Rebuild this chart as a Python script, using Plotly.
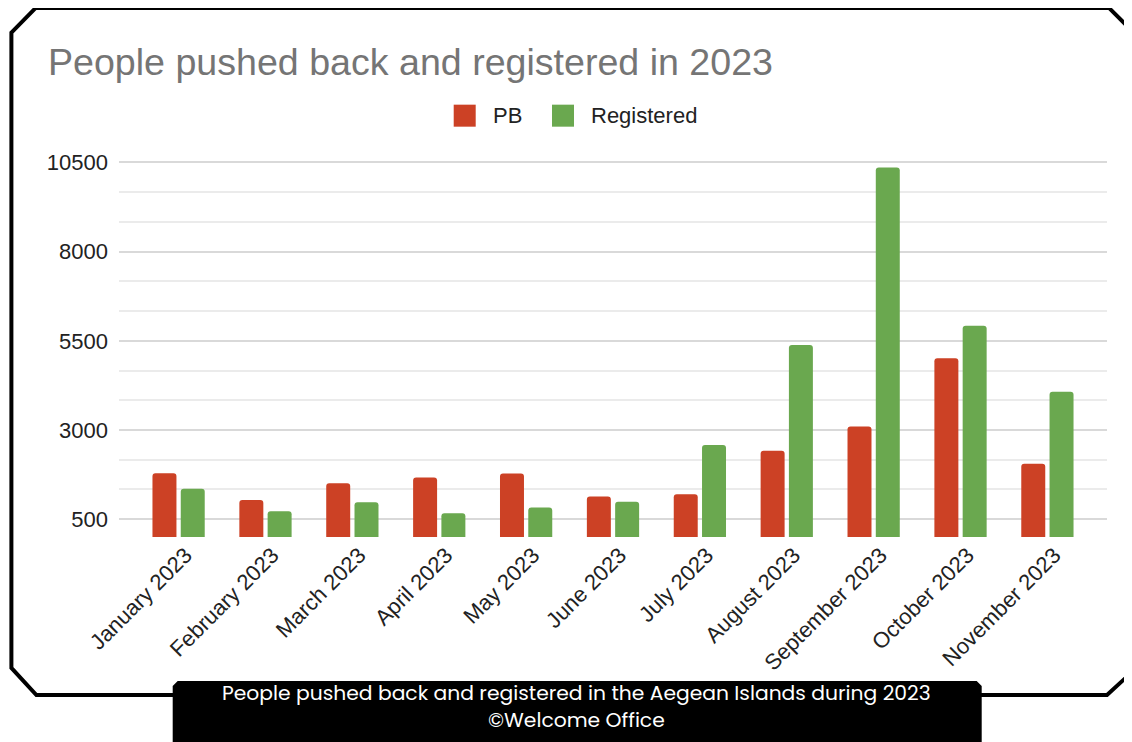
import plotly.graph_objects as go

# ---- data ----
months = ["January 2023", "February 2023", "March 2023", "April 2023", "May 2023",
          "June 2023", "July 2023", "August 2023", "September 2023", "October 2023",
          "November 2023"]
pb_values = [1790, 1040, 1510, 1670, 1780, 1135, 1200, 2420, 3100, 5010, 2050]
registered_values = [1355, 725, 975, 665, 825, 985, 2580, 5380, 10360, 5920, 4070]
series_names = ["PB", "Registered"]
series_colors = ["#cc4125", "#6aa84f"]
title_text = "People pushed back and registered in 2023"
caption_line1 = "People pushed back and registered in the Aegean Islands during 2023"
caption_line2 = "©Welcome Office"

# ---- geometry (pixels) ----
OFF = 8  # page body margin
FW, FH = 1132 - OFF, 742 - OFF
ML, MR, MT, MB = 119.3 - OFF, 24.7, 161.3 - OFF, 204.9
PW = FW - ML - MR
PH = FH - MT - MB


def px(xp):
    return (xp - OFF - ML) / PW


def py(yp):
    return (FH - MB - (yp - OFF)) / PH


FONT = "Liberation Sans, Arial, sans-serif"
CAP_FONT = "Poppins, Inter, Open Sans, sans-serif"

fig = go.Figure()
for name, vals, col in zip(series_names, [pb_values, registered_values], series_colors):
    fig.add_trace(go.Bar(
        x=months, y=vals, name=name,
        marker=dict(color=col, cornerradius=3, line=dict(width=0)),
        showlegend=False,
    ))

shapes = []
# outer card border with bevelled corners
border_pts = [(11.7, 33), (36, 8.3), (1109.3, 8.3), (1140, 39), (1140, 665),
              (1107.3, 695), (36.7, 695), (11.7, 668)]
path = "M " + " L ".join(f"{px(a):.5f},{py(b):.5f}" for a, b in border_pts) + " Z"
shapes.append(dict(type="path", xref="paper", yref="paper", path=path,
                   line=dict(color="black", width=4), fillcolor="rgba(0,0,0,0)",
                   layer="below"))
# caption box
cap_pts = [(173, 745), (173, 686), (178, 681), (977, 681), (982, 686), (982, 745)]
path = "M " + " L ".join(f"{px(a):.5f},{py(b):.5f}" for a, b in cap_pts) + " Z"
shapes.append(dict(type="path", xref="paper", yref="paper", path=path,
                   line=dict(color="black", width=0), fillcolor="black", layer="above"))
# legend squares
for x0, col in zip([454, 552.3], series_colors):
    shapes.append(dict(type="rect", xref="paper", yref="paper",
                       x0=px(x0), x1=px(x0 + 22), y0=py(127), y1=py(105),
                       fillcolor=col, line=dict(width=0), layer="above"))

annotations = [
    dict(text=title_text, xref="paper", yref="paper", x=px(46), y=py(62),
         xanchor="left", yanchor="middle", showarrow=False,
         font=dict(family=FONT, size=37.6, color="#757575")),
    dict(text=series_names[0], xref="paper", yref="paper", x=px(491), y=py(116),
         xanchor="left", yanchor="middle", showarrow=False,
         font=dict(family=FONT, size=22, color="#222222")),
    dict(text=series_names[1], xref="paper", yref="paper", x=px(589), y=py(116),
         xanchor="left", yanchor="middle", showarrow=False,
         font=dict(family=FONT, size=22, color="#222222")),
    dict(text=caption_line1, xref="paper", yref="paper", x=px(577), y=py(693),
         xanchor="center", yanchor="middle", showarrow=False,
         font=dict(family=CAP_FONT, size=20.3, color="white")),
    dict(text=caption_line2, xref="paper", yref="paper", x=px(577), y=py(720),
         xanchor="center", yanchor="middle", showarrow=False,
         font=dict(family=CAP_FONT, size=20.3, color="white")),
]

fig.update_layout(
    width=FW, height=FH,
    margin=dict(l=ML, r=MR, t=MT, b=MB, pad=0),
    paper_bgcolor="white", plot_bgcolor="white",
    barmode="group", bargap=0.349, bargroupgap=0.152,
    shapes=shapes, annotations=annotations,
    showlegend=False,
    xaxis=dict(type="category", range=[-0.686, 10.686], showgrid=False,
               showline=False, zeroline=False, ticks="", tickangle=-45,
               tickfont=dict(family=FONT, size=22, color="#222222"),
               ticklabelstandoff=0, ticklabelshift=7, automargin=False),
    yaxis=dict(range=[0, 10540], tickmode="linear", tick0=500, dtick=2500,
               tickformat="d",
               showgrid=True, gridcolor="#d9d9d9", gridwidth=2,
               zeroline=False, showline=False, ticks="",
               tickfont=dict(family=FONT, size=22, color="#222222"),
               ticklabelstandoff=10, automargin=False,
               minor=dict(tick0=500, dtick=2500 / 3, showgrid=True,
                          gridcolor="#ebebeb", gridwidth=2, ticks="")),
)

fig.write_html("out.html", post_script="document.body.style.overflow='hidden';")
